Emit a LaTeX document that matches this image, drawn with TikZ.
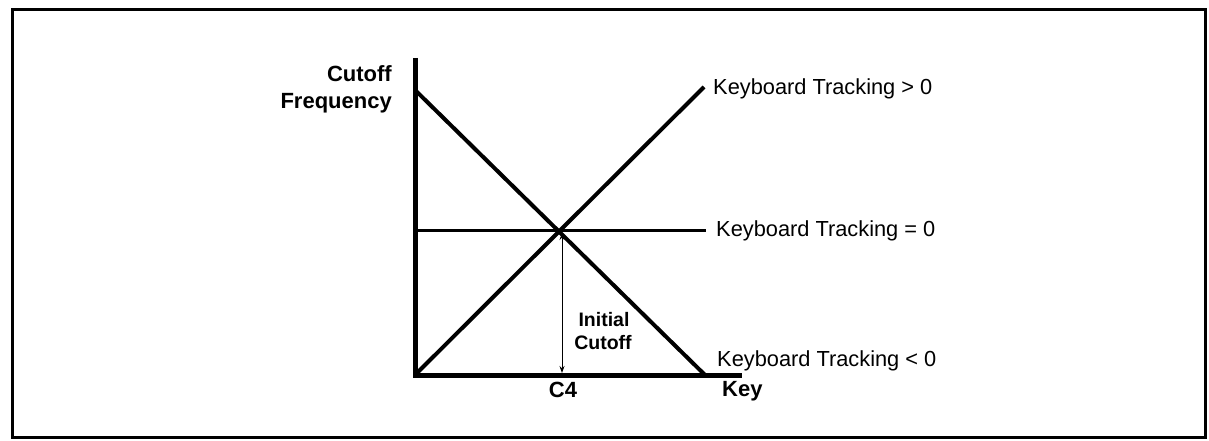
\documentclass[tikz,border=0pt]{standalone}
\usepackage{fontspec}
\setmainfont{Liberation Sans}
\usetikzlibrary{arrows.meta}
\begin{document}
\begin{tikzpicture}[x=1pt,y=-1pt,
  lbl/.style={inner sep=0pt,anchor=base west,font=\fontsize{21.8}{26}\selectfont},
  blbl/.style={inner sep=0pt,font=\fontsize{22}{26}\selectfont\bfseries},
  ilbl/.style={inner sep=0pt,font=\fontsize{19.5}{24}\selectfont\bfseries},
  axis/.style={line width=5pt},
  curve/.style={line width=4pt},
  flat/.style={line width=3pt},
  dim/.style={line width=0.9pt,{Stealth[length=7pt,width=5pt]}-{Stealth[length=7pt,width=5pt]}}]
\useasboundingbox (0,0) rectangle (1209,441);
\draw[line width=3pt] (12,10) rectangle (1205,437);
% axes
\coordinate (top) at (415,58);
\coordinate (orig) at (415,375);
\coordinate (xend) at (742,375);
\draw[axis] (top) -- (orig) -- (xend);
% lines
\coordinate (dstart) at (415,90);
\coordinate (dend) at (705,375);
\coordinate (ustart) at (415,375);
\coordinate (uend) at (704,87);
\coordinate (hstart) at (415,230);
\coordinate (hend) at (706,230);
\coordinate (cross) at (562,233);
\coordinate (foot) at (562,373);
\draw[curve] (dstart) -- (dend);
\draw[curve] (ustart) -- (uend);
\draw[flat] (hstart) -- (hend);
\draw[dim] (cross) -- (foot);
% labels
\node[lbl] (kgt) at (713,95) {Keyboard Tracking > 0};
\node[lbl] (keq) at (716,236) {Keyboard Tracking = 0};
\node[lbl] (klt) at (717,366) {Keyboard Tracking < 0};
\node[blbl,anchor=base west] (key) at (722,396) {Key};
\node[blbl,anchor=base] (c4) at (563,397) {C4};
\node[ilbl,anchor=base] (ini) at (604,326) {Initial};
\node[ilbl,anchor=base] (cut) at (603,349) {Cutoff};
\node[blbl,anchor=base east] (cf1) at (392,82) {Cutoff};
\node[blbl,anchor=base east] (cf2) at (392,109) {Frequency};
\end{tikzpicture}
\end{document}
